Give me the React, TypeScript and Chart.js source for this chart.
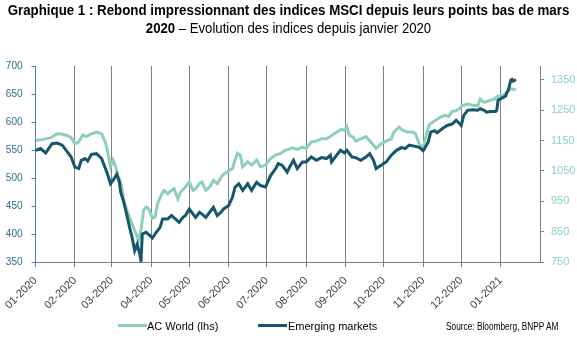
import React, { useEffect, useRef } from "react";
import { Chart, registerables } from "chart.js";

Chart.register(...registerables);

// Days since 2020-01-01
const acwDays = [0, 6, 12, 17, 21, 25, 28, 31, 34, 37, 40, 44, 48, 52, 55, 57, 59, 61, 63, 65, 67, 69, 71, 74, 77, 79, 81, 83, 85, 87, 89, 92, 94, 96, 99, 101, 104, 107, 109, 112, 114, 118, 121, 124, 126, 129, 131, 134, 137, 140, 143, 147, 151, 155, 157, 159, 161, 163, 167, 170, 174, 177, 181, 185, 189, 193, 196, 200, 202, 206, 210, 213, 217, 221, 225, 229, 233, 237, 241, 243, 245, 247, 250, 252, 256, 260, 264, 268, 272, 276, 280, 282, 286, 289, 293, 297, 299, 302, 305, 307, 310, 314, 318, 322, 325, 328, 331, 333, 336, 340, 344, 348, 350, 353, 357, 361, 364, 368, 371, 374, 376, 378];
const acwValues = [567, 569, 572, 579, 578, 576, 572, 561, 564, 577, 574, 579, 582, 579, 564, 544, 520, 532, 520, 502, 493, 466, 448, 430, 412, 401, 389, 407, 442, 448, 445, 428, 430, 454, 470, 478, 472, 478, 481, 463, 475, 484, 493, 478, 481, 490, 493, 478, 484, 496, 490, 505, 511, 517, 532, 544, 541, 520, 529, 523, 532, 520, 523, 535, 541, 544, 549, 552, 554, 551, 555, 553, 564, 566, 570, 570, 576, 582, 587, 585, 592, 576, 573, 566, 570, 574, 564, 553, 561, 566, 570, 582, 591, 585, 582, 582, 579, 561, 552, 573, 596, 602, 608, 612, 610, 619, 620, 623, 629, 632, 630, 629, 641, 635, 638, 641, 646, 648, 652, 660, 658, 659];

const emDays = [0, 4, 8, 13, 17, 21, 25, 28, 31, 34, 36, 39, 41, 44, 48, 52, 55, 57, 59, 61, 64, 66, 67, 69, 71, 74, 76, 78, 80, 82, 83, 84, 87, 90, 92, 95, 98, 100, 104, 107, 110, 113, 116, 118, 121, 124, 126, 129, 131, 134, 137, 140, 143, 146, 148, 152, 155, 157, 160, 163, 167, 170, 174, 177, 181, 185, 189, 191, 194, 198, 200, 203, 206, 210, 213, 217, 221, 225, 229, 232, 233, 237, 240, 243, 245, 249, 252, 256, 260, 263, 266, 268, 272, 276, 280, 284, 288, 291, 294, 298, 302, 305, 306, 309, 311, 314, 316, 320, 324, 328, 331, 334, 335, 337, 340, 344, 348, 350, 353, 355, 358, 362, 363, 364, 367, 370, 371, 372, 374, 375, 376, 378];
const emValues = [1118, 1124, 1109, 1140, 1142, 1135, 1113, 1096, 1063, 1058, 1085, 1091, 1083, 1105, 1107, 1091, 1058, 1035, 1008, 1019, 1039, 1013, 980, 953, 920, 864, 831, 787, 809, 776, 754, 842, 848, 837, 829, 848, 864, 892, 892, 903, 892, 881, 897, 903, 925, 908, 897, 914, 908, 897, 914, 930, 903, 914, 925, 936, 964, 997, 1008, 986, 1008, 986, 1013, 1002, 997, 1035, 1058, 1074, 1069, 1046, 1063, 1085, 1058, 1080, 1080, 1096, 1085, 1094, 1091, 1102, 1080, 1102, 1118, 1110, 1118, 1096, 1094, 1085, 1096, 1107, 1085, 1058, 1069, 1080, 1102, 1118, 1127, 1124, 1135, 1132, 1128, 1117, 1123, 1145, 1178, 1183, 1176, 1189, 1200, 1205, 1217, 1205, 1200, 1233, 1250, 1252, 1250, 1255, 1250, 1244, 1246, 1246, 1250, 1283, 1290, 1297, 1310, 1316, 1349, 1352, 1346, 1352];

const monthDays = [0, 31, 60, 91, 121, 152, 182, 213, 244, 274, 305, 335, 366];
const monthLabels = ["01-2020", "02-2020", "03-2020", "04-2020", "05-2020", "06-2020", "07-2020", "08-2020", "09-2020", "10-2020", "11-2020", "12-2020", "01-2021"];
const leftTicks = [350, 400, 450, 500, 550, 600, 650, 700];
const rightTicks = [750, 850, 950, 1050, 1150, 1250, 1350];

const LIGHT = "#8DCFB8";
const DARK = "#17566B";
const FONT = "'Liberation Sans', Arial, sans-serif";

export default function App() {
  const ref = useRef<HTMLCanvasElement | null>(null);

  useEffect(() => {
    if (!ref.current) return;
    const chart = new Chart(ref.current, {
      type: "line",
      data: {
        datasets: [
          {
            label: "AC World (lhs)",
            data: acwDays.map((d, i) => ({ x: d, y: acwValues[i] })),
            yAxisID: "y",
            borderColor: LIGHT,
            backgroundColor: LIGHT,
            borderWidth: 3,
            pointRadius: 0,
            tension: 0,
            order: 2,
          },
          {
            label: "Emerging markets",
            data: emDays.map((d, i) => ({ x: d, y: emValues[i] })),
            yAxisID: "y2",
            borderColor: DARK,
            backgroundColor: DARK,
            borderWidth: 3,
            pointRadius: 0,
            tension: 0,
            order: 1,
          },
        ],
      },
      options: {
        responsive: false,
        animation: false,
        layout: { padding: { top: 66, left: 0, right: 0, bottom: 0 } },
        plugins: { legend: { display: false }, tooltip: { enabled: false }, title: { display: false } },
        scales: {
          x: {
            type: "linear",
            min: 0,
            max: 397,
            afterBuildTicks: (scale: any) => {
              scale.ticks = monthDays.map((v) => ({ value: v }));
            },
            afterFit: (scale: any) => {
              scale.height = 77;
            },
            ticks: {
              autoSkip: false,
              maxRotation: 45,
              minRotation: 45,
              padding: 7,
              color: "#404040",
              font: { family: FONT, size: 11 },
              callback: (_v: any, i: number) => monthLabels[i],
            },
            grid: {
              color: (ctx: any) => (ctx.index === 0 ? "rgba(0,0,0,0)" : "#808080"),
              tickColor: "#808080",
              lineWidth: 1,
              drawTicks: true,
              tickLength: 5,
            },
            border: { color: "#808080", width: 1 },
          },
          y: {
            position: "left",
            min: 350,
            max: 700,
            afterBuildTicks: (scale: any) => {
              scale.ticks = leftTicks.map((v) => ({ value: v }));
            },
            afterFit: (scale: any) => {
              scale.width = 32;
            },
            ticks: {
              padding: 9,
              color: "#2F6F86",
              font: { family: FONT, size: 10 },
              callback: (v: any) => String(v),
            },
            grid: { drawOnChartArea: false, drawTicks: true, tickLength: 4, color: "#4A7EBB" },
            border: { color: "#4A7EBB", width: 1 },
          },
          y2: {
            position: "right",
            min: 750,
            max: 1396,
            afterBuildTicks: (scale: any) => {
              scale.ticks = rightTicks.map((v) => ({ value: v }));
            },
            afterFit: (scale: any) => {
              scale.width = 37;
            },
            ticks: {
              padding: 7,
              color: "#8DD3BE",
              font: { family: FONT, size: 11 },
              callback: (v: any) => String(v),
            },
            grid: { drawOnChartArea: false, drawTicks: true, tickLength: 4, color: "#808080" },
            border: { color: "#808080", width: 1 },
          },
        },
      },
    });
    return () => chart.destroy();
  }, []);

  return (
    <div style={{ position: "absolute", left: 0, top: 0, width: 577, height: 339, background: "#fff", overflow: "hidden" }}>
      <canvas ref={ref} width={577} height={339} style={{ position: "absolute", left: 0, top: 0 }} />
      <div
        style={{
          position: "absolute",
          left: -60,
          top: 1,
          width: 697,
          textAlign: "center",
          fontFamily: FONT,
          fontSize: 14,
          lineHeight: "18px",
          color: "#000",
          whiteSpace: "nowrap",
        }}
      >
        <div style={{ fontWeight: "bold", transform: "scaleX(0.95)", transformOrigin: "348.5px 0" }}>
          Graphique 1 : Rebond impressionnant des indices MSCI depuis leurs points bas de mars
        </div>
        <div style={{ transform: "scaleX(0.94)", transformOrigin: "348.5px 0" }}>
          <span style={{ fontWeight: "bold" }}>2020</span>
          <span> –  Evolution des indices depuis janvier 2020</span>
        </div>
      </div>
      <div style={{ position: "absolute", left: 118, top: 324, width: 29, height: 3, background: LIGHT }} />
      <div style={{ position: "absolute", left: 147, top: 318, fontFamily: FONT, fontSize: 11, lineHeight: "16px", color: "#000", whiteSpace: "nowrap" }}>
        AC World (lhs)
      </div>
      <div style={{ position: "absolute", left: 258, top: 324, width: 29, height: 3, background: DARK }} />
      <div style={{ position: "absolute", left: 288, top: 318, fontFamily: FONT, fontSize: 11, lineHeight: "16px", color: "#000", whiteSpace: "nowrap" }}>
        Emerging markets
      </div>
      <div
        style={{
          position: "absolute",
          left: 446,
          top: 320,
          fontFamily: FONT,
          fontSize: 10,
          lineHeight: "14px",
          color: "#000",
          whiteSpace: "nowrap",
          transform: "scaleX(0.83)",
          transformOrigin: "0 0",
        }}
      >
        Source: Bloomberg, BNPP AM
      </div>
    </div>
  );
}
